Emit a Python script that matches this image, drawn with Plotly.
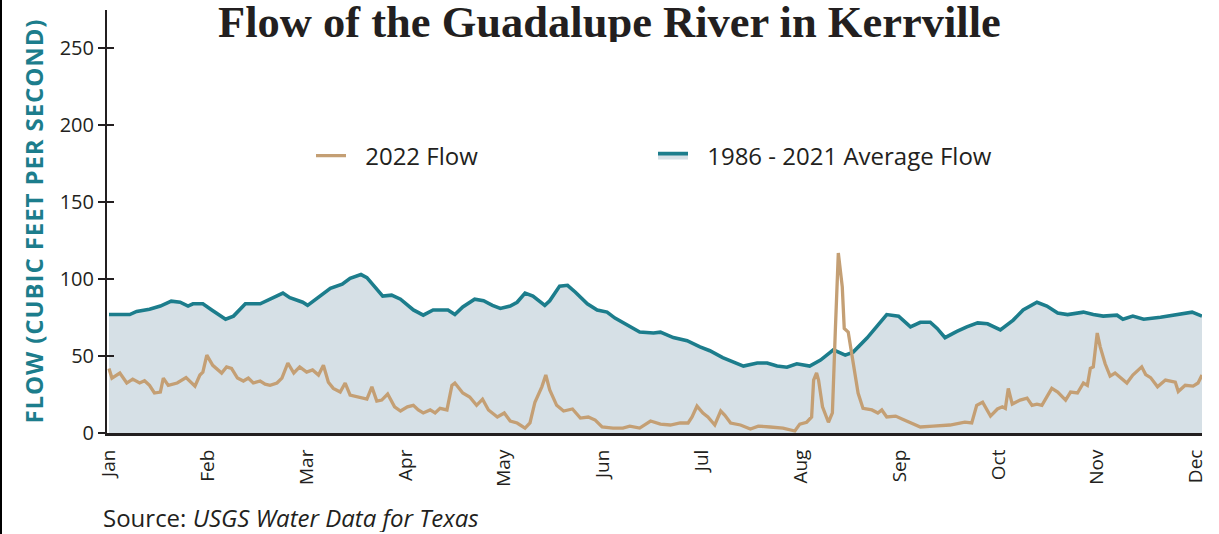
import plotly.graph_objects as go

# Month tick labels (evenly spaced categories on a numeric month axis)
month_labels = ["Jan", "Feb", "Mar", "Apr", "May", "Jun", "Jul", "Aug", "Sep", "Oct", "Nov", "Dec"]
month_pos = list(range(12))

# 1986 - 2021 average flow (x in months from Jan 1, y in cfs)
avg_x = [0.00, 0.21, 0.28, 0.41, 0.52, 0.63, 0.72, 0.80, 0.85, 0.95, 1.04, 1.18, 1.26, 1.38, 1.53,
         1.63, 1.76, 1.83, 1.96, 2.01, 2.11, 2.24, 2.36, 2.44, 2.55, 2.61, 2.69, 2.77, 2.86, 2.95,
         3.08, 3.18, 3.28, 3.43, 3.50, 3.58, 3.70, 3.79, 3.88, 3.96, 4.06, 4.13, 4.21, 4.29, 4.41,
         4.46, 4.56, 4.64, 4.72, 4.84, 4.94, 5.04, 5.12, 5.22, 5.37, 5.51, 5.58, 5.71, 5.85, 5.98,
         6.08, 6.21, 6.36, 6.42, 6.56, 6.66, 6.76, 6.86, 6.96, 7.09, 7.20, 7.33, 7.45, 7.53, 7.67,
         7.77, 7.87, 7.99, 8.11, 8.21, 8.31, 8.38, 8.46, 8.58, 8.68, 8.79, 8.89, 9.02, 9.15, 9.25,
         9.39, 9.49, 9.60, 9.70, 9.86, 9.96, 10.06, 10.20, 10.26, 10.36, 10.47, 10.64, 10.81, 10.96, 11.06]
avg_flow = [77, 77, 79, 80.5, 82.5, 85.7, 85, 82.5, 84, 84, 80, 74, 76, 84, 84,
            87, 91, 88, 85, 83, 87.7, 94, 96.7, 100.6, 103, 101, 95, 89, 89.6, 87,
            80, 76.6, 80, 80, 77, 82, 87, 86, 83, 81, 82.5, 85, 91, 89, 83,
            86, 95.5, 96, 91.5, 84, 80, 78.6, 74.7, 71, 65.6, 65, 65.6, 62, 60, 56,
            53.5, 49, 45, 43.5, 45.5, 45.5, 43.5, 42.8, 45, 43.5, 47.4, 54, 50.6, 52.6, 61.7,
            69, 77, 76, 69, 72, 72, 68, 62, 66, 69, 71.6, 71, 67, 73.4, 80,
            85, 82.5, 78, 77, 78.6, 77, 76, 76.6, 74, 76, 74, 75.3, 77, 78.6, 76]

# 2022 flow
y22_x = [0.00, 0.03, 0.11, 0.18, 0.24, 0.31, 0.36, 0.41, 0.46, 0.52, 0.55, 0.60, 0.69, 0.78, 0.87,
         0.92, 0.95, 0.99, 1.05, 1.14, 1.19, 1.24, 1.30, 1.36, 1.41, 1.46, 1.53, 1.58, 1.63, 1.70,
         1.75, 1.81, 1.87, 1.93, 2.00, 2.06, 2.12, 2.17, 2.22, 2.27, 2.34, 2.39, 2.44, 2.52, 2.61,
         2.66, 2.71, 2.76, 2.82, 2.89, 2.95, 3.02, 3.08, 3.13, 3.18, 3.25, 3.30, 3.35, 3.42, 3.47,
         3.50, 3.58, 3.65, 3.72, 3.78, 3.84, 3.93, 4.00, 4.06, 4.13, 4.21, 4.26, 4.31, 4.38, 4.42,
         4.46, 4.53, 4.60, 4.69, 4.77, 4.85, 4.92, 4.99, 5.10, 5.20, 5.27, 5.37, 5.48, 5.58, 5.68,
         5.78, 5.86, 5.90, 5.95, 6.01, 6.06, 6.13, 6.19, 6.23, 6.29, 6.39, 6.49, 6.57, 6.69, 6.82,
         6.94, 6.99, 7.06, 7.11, 7.13, 7.16, 7.18, 7.22, 7.28, 7.32, 7.35, 7.38, 7.42, 7.44, 7.48,
         7.53, 7.58, 7.63, 7.72, 7.78, 7.82, 7.87, 7.96, 8.03, 8.11, 8.21, 8.34, 8.51, 8.66, 8.73,
         8.78, 8.84, 8.92, 8.99, 9.04, 9.07, 9.10, 9.14, 9.22, 9.29, 9.34, 9.39, 9.44, 9.49, 9.54,
         9.60, 9.68, 9.73, 9.80, 9.86, 9.90, 9.93, 9.96, 10.00, 10.03, 10.08, 10.13, 10.18, 10.23, 10.30,
         10.36, 10.45, 10.49, 10.54, 10.61, 10.69, 10.79, 10.82, 10.89, 10.97, 11.02, 11.06]
flow_2022 = [42, 35.7, 39, 32.5, 35, 32.5, 34, 31, 26, 26.6, 35.7, 31, 32.5, 36, 30.5,
             37.7, 39.6, 50.6, 44, 39, 43, 42, 35.7, 33.8, 35.7, 32.5, 33.8, 31.8, 31, 32.5,
             35.7, 45.5, 39, 43, 39.6, 41, 37.7, 44, 33, 29, 26.6, 32.5, 24.7, 23.4, 22,
             30, 20.8, 21.4, 25.3, 17, 14.3, 17, 18, 15, 13, 15, 13, 16, 15, 31,
             32.5, 26, 23.4, 18, 22, 15, 10.4, 13, 7.8, 6.5, 3.2, 6.5, 20, 30, 37.7,
             28, 18, 14.3, 15.6, 9.7, 10.4, 8.4, 3.9, 3.2, 3.2, 4.5, 3.2, 7.8, 5.8, 5.2,
             6.5, 6.5, 10.4, 17.5, 13, 10.4, 5.2, 14.3, 11.7, 6.5, 5.2, 2.6, 4.5, 3.9, 3.2,
             1.3, 5.8, 7, 10.4, 34.4, 39, 34.4, 17, 7, 13, 67, 117, 95, 68, 65.6,
             45.5, 26, 16, 15, 13, 15, 10.4, 11, 9, 6.5, 3.9, 4.5, 5.2, 7, 6.5,
             18, 20, 11, 15.6, 17, 16, 29, 18.8, 21.4, 22.7, 18, 18.8, 18, 23.4, 29,
             26.6, 21.4, 26.6, 26, 32.5, 31, 42, 43, 65, 56, 45, 37, 39, 36, 32.5,
             37.7, 43, 38, 36, 30, 34.4, 33, 27, 31, 30.5, 32.5, 37.7]

y_ticks = [0, 50, 100, 150, 200, 250]

TEAL = "#1c7d8c"
TAN = "#c49f74"
FILL = "#d6e0e6"
TXT = "#231f20"

W, H = 1219, 534
ML, MR, MT, MB = 107, 17, 10, 101
PW = W - ML - MR
PH = H - MT - MB

fig = go.Figure()
fig.add_trace(go.Scatter(x=avg_x, y=avg_flow, mode="lines", name="\u00a0\u2009\u20091986 - 2021 Average Flow",
                         line=dict(color=TEAL, width=3.6), fill="tozeroy", fillcolor=FILL))
fig.add_trace(go.Scatter(x=y22_x, y=flow_2022, mode="lines", name="\u00a0\u2009\u20092022 Flow",
                         line=dict(color=TAN, width=3.3)))

fig.update_layout(
    width=W, height=H,
    margin=dict(l=ML, r=MR, t=MT, b=MB, pad=0),
    paper_bgcolor="white", plot_bgcolor="white",
    font=dict(family="Open Sans", color=TXT),
    showlegend=True,
    legend=dict(orientation="h", x=(311 - ML) / PW, y=(433 - 156) / PH, xanchor="left", yanchor="middle",
                traceorder="reversed", entrywidth=297, entrywidthmode="pixels",
                font=dict(size=24, color=TXT), bgcolor="rgba(0,0,0,0)"),
    xaxis=dict(range=[-0.02, 11.06], tickvals=month_pos, ticktext=month_labels, tickangle=-90,
               showgrid=False, zeroline=False, showline=True, linecolor=TXT, linewidth=3,
               ticks="", tickfont=dict(size=19, color=TXT), ticklabelstandoff=6),
    yaxis=dict(range=[0, 275], tickvals=y_ticks, ticksuffix="\u00a0\u2009", showgrid=False, zeroline=False,
               showline=True, linecolor=TXT, linewidth=2, ticks="outside", ticklen=7,
               tickwidth=2, tickcolor=TXT, tickfont=dict(size=20, color=TXT)),
    yaxis2=dict(range=[0, 275], tickvals=y_ticks, overlaying="y", side="left", showgrid=False,
                zeroline=False, showline=False, ticks="inside", ticklen=7, tickwidth=2,
                tickcolor=TXT, showticklabels=False),
)
# invisible trace to activate yaxis2 ticks
fig.add_trace(go.Scatter(x=[None], y=[None], yaxis="y2", showlegend=False, hoverinfo="skip"))

fig.add_annotation(text="<b>Flow of the Guadalupe River in Kerrville</b>", xref="paper", yref="paper",
                   x=(609 - ML) / PW, y=(433 - 22) / PH, xanchor="center", yanchor="middle",
                   height=40, valign="middle",
                   showarrow=False, font=dict(family="Liberation Serif", size=44.5, color=TXT))
fig.add_annotation(text="<span style='letter-spacing:0.9px'><b>FLOW (CUBIC FEET PER SECOND)</b></span>",
                   xref="paper", yref="paper",
                   x=(33 - ML) / PW, y=0.5, xanchor="center", yanchor="middle", textangle=-90,
                   showarrow=False, font=dict(family="Open Sans", size=24, color=TEAL))
fig.add_annotation(text="Source: <i>USGS Water Data for Texas</i>", xref="paper", yref="paper",
                   x=(101 - ML) / PW, y=(433 - 517) / PH, xanchor="left", yanchor="middle",
                   height=30, valign="middle",
                   showarrow=False, font=dict(family="Open Sans", size=24, color=TXT))
# left page border line
fig.add_shape(type="line", xref="paper", yref="paper", x0=(1 - ML) / PW, x1=(1 - ML) / PW,
              y0=-MB / PH, y1=1 + MT / PH, line=dict(color="black", width=2))

fig.write_html("out.html", post_script="document.body.style.margin='0';",
               config={"displayModeBar": False})
